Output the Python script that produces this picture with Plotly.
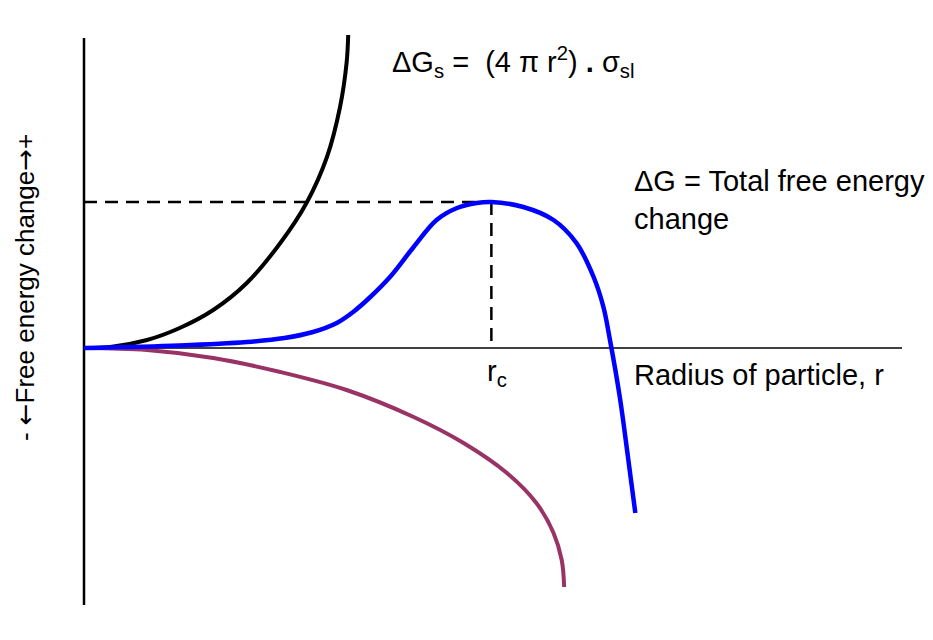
import plotly.graph_objects as go

# surface energy term (r in arbitrary units, G in arbitrary units)
r_surface = [0, 0.32, 0.77, 1.17, 1.58, 1.99, 2.40, 2.72, 2.97, 3.13, 3.21, 3.23]
g_surface = [0, 0.01, 0.08, 0.20, 0.38, 0.65, 1.05, 1.45, 1.91, 2.41, 2.85, 3.13]

# total free energy change
r_total = [0, 1.17, 1.99, 2.45, 2.80, 3.09, 3.29, 3.50, 3.74, 4.03, 4.31, 4.56, 4.80, 4.98,
           5.37, 5.74, 6.02, 6.23, 6.35, 6.43, 6.55, 6.65, 6.74]
g_total = [0, 0.025, 0.06, 0.10, 0.16, 0.25, 0.36, 0.51, 0.71, 1.01, 1.28, 1.40, 1.45, 1.46,
           1.41, 1.28, 1.05, 0.71, 0.41, 0.08, -0.49, -1.09, -1.65]

# volume free energy term
r_volume = [0, 0.77, 1.58, 2.40, 3.21, 4.03, 4.64, 5.17, 5.53, 5.74, 5.84, 5.87]
g_volume = [0, -0.02, -0.10, -0.24, -0.42, -0.69, -0.95, -1.25, -1.55, -1.85, -2.12, -2.39]

# critical radius and barrier height
r_crit = 4.98
g_crit = 1.46

FONT = "Liberation Sans, Arial, sans-serif"

fig = go.Figure()

# dashed guides to the maximum
fig.add_trace(go.Scatter(
    x=[0, r_crit], y=[g_crit, g_crit], mode="lines",
    line=dict(color="black", width=2.5, dash="13px,8px"), hoverinfo="skip",
))
fig.add_trace(go.Scatter(
    x=[r_crit, r_crit], y=[g_crit, 0], mode="lines",
    line=dict(color="black", width=2.5, dash="13px,8px"), hoverinfo="skip",
))

fig.add_trace(go.Scatter(
    x=r_surface, y=g_surface, mode="lines", name="surface",
    line=dict(color="black", width=4, shape="spline"),
))
fig.add_trace(go.Scatter(
    x=r_volume, y=g_volume, mode="lines", name="volume",
    line=dict(color="#993366", width=4, shape="spline"),
))
fig.add_trace(go.Scatter(
    x=r_total, y=g_total, mode="lines", name="total",
    line=dict(color="#0000FF", width=4.5, shape="spline"),
))

# axes drawn as plain lines (vertical one on paper x so it is not clipped)
fig.add_shape(type="line", xref="paper", x0=0, x1=0, y0=-2.57, y1=3.10,
              line=dict(color="black", width=2.5), layer="below")
fig.add_shape(type="line", x0=0, x1=10, y0=0, y1=0,
              line=dict(color="black", width=1.5), layer="below")

lbl = dict(family=FONT, size=29, color="black")
fig.add_annotation(x=3.74, y=2.86, xanchor="left", yanchor="middle", showarrow=False,
                   text="ΔG<sub>s</sub> =  (4 π r<sup>2</sup>) <b>.</b> σ<sub>sl</sub>",
                   font=lbl)
fig.add_annotation(x=6.70, y=1.48, xanchor="left", yanchor="middle", showarrow=False,
                   align="left", text="ΔG = Total free energy<br>change", font=lbl)
fig.add_annotation(x=r_crit + 0.07, y=-0.25, xanchor="center", yanchor="middle", showarrow=False,
                   text="r<sub>c</sub>", font=lbl)
fig.add_annotation(x=6.70, y=-0.27, xanchor="left", yanchor="middle", showarrow=False,
                   text="Radius of particle, r", font=lbl)
fig.add_annotation(x=6.41, y=-2.59, xanchor="left", yanchor="middle", showarrow=False,
                   align="left",
                   text="ΔG<sub>v</sub> <b>.</b> (4/3) π r<sup>2</sup> = Volume<br>free energy change",
                   font=lbl)
arrow = '<span style="font-family:DejaVu Sans">{}</span>'
fig.add_annotation(xref="paper", x=-0.072, y=0.60, xanchor="center", yanchor="middle",
                   showarrow=False, textangle=-90,
                   text="- " + arrow.format("←") + "Free energy change" + arrow.format("→") + "+",
                   font=dict(family=FONT, size=26, color="black"))

# page body has an 8px margin, so the figure is sized to the visible area
fig.update_layout(
    width=925, height=632,
    margin=dict(l=76, r=31, t=22, b=35),
    paper_bgcolor="white", plot_bgcolor="white",
    showlegend=False,
    xaxis=dict(range=[0, 10], visible=False, fixedrange=True),
    yaxis=dict(range=[-2.57, 3.18], visible=False, fixedrange=True),
)

fig.write_html("out.html")
